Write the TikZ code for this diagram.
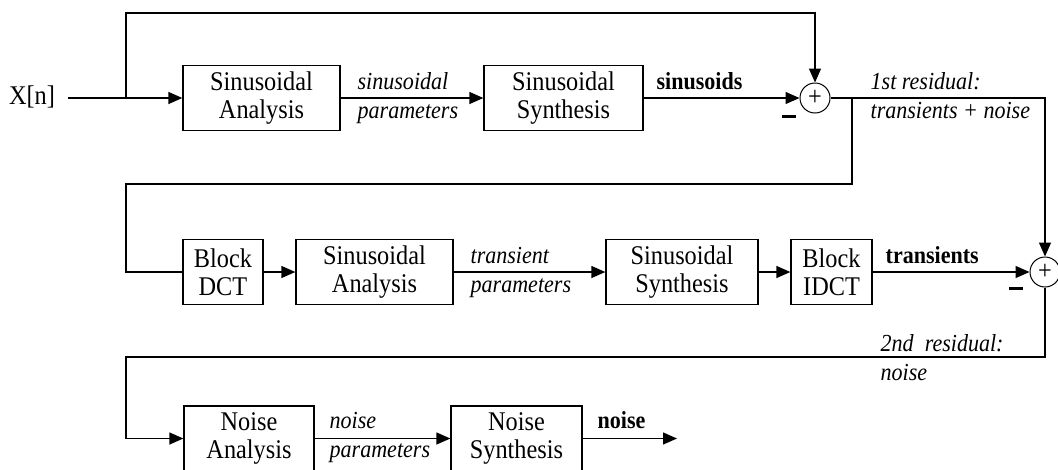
\documentclass[tikz,border=0pt]{standalone}
\usepackage{fontspec}
\setmainfont{Liberation Serif}[FakeStretch=0.9]
\usetikzlibrary{arrows.meta}
\begin{document}
\begin{tikzpicture}[x=1pt,y=-1pt, line width=1.3pt,
  blk/.style={draw, line width=1.3pt, inner sep=0pt, minimum height=65pt, align=center,
    font=\fontsize{27}{28}\selectfont},
  lbl/.style={font=\fontsize{24.5}{26}\selectfont\itshape, inner sep=0pt, anchor=base west},
  blbl/.style={font=\fontsize{24.5}{26}\selectfont\bfseries, inner sep=0pt, anchor=base west},
  sum/.style={draw, circle, minimum size=30pt, inner sep=0pt, line width=1pt,
    font=\fontsize{27}{27}\selectfont},
  arr/.style={-{Triangle[length=14pt,width=12pt]}},
  minus/.style={inner sep=0pt}
]
\useasboundingbox (0,0) rectangle (1058,469);

% row 1
\node[font=\fontsize{27}{28}\selectfont, inner sep=0pt] (xin) at (32,97) {X[n]};
\node[blk, minimum width=157pt] (sa1) at (261.5,98) {Sinusoidal\\Analysis};
\node[blk, minimum width=159pt] (ss1) at (563.5,98) {Sinusoidal\\Synthesis};
\node[sum] (c1) at (815,98) {+};
\node[lbl] (p1a) at (357,89) {sinusoidal};
\node[lbl] (p1b) at (357,118) {parameters};
\node[blbl] (s1) at (656,89) {sinusoids};
\node[minus] (m1) at (789,116) {\rule{14pt}{3pt}};
\node[lbl] (r1a) at (870,89) {1st residual:};
\node[lbl] (r1b) at (870,118) {transients + noise};

% row 2
\node[blk, minimum width=80pt] (dct) at (223,272) {Block\\DCT};
\node[blk, minimum width=157pt] (sa2) at (374.5,272) {Sinusoidal\\Analysis};
\node[blk, minimum width=152pt] (ss2) at (682,272) {Sinusoidal\\Synthesis};
\node[blk, minimum width=81pt] (idct) at (831.5,272) {Block\\IDCT};
\node[sum] (c2) at (1045,272) {+};
\node[lbl] (p2a) at (470,263) {transient};
\node[lbl] (p2b) at (470,292) {parameters};
\node[blbl] (s2) at (885,263) {transients};
\node[minus] (m2) at (1016,288) {\rule{14pt}{3pt}};
\node[lbl] (r2a) at (880,351) {2nd\hspace{0.45em}residual:};
\node[lbl] (r2b) at (880,380) {noise};

% row 3
\node[blk, minimum width=130pt] (na) at (249,438.5) {Noise\\Analysis};
\node[blk, minimum width=131pt] (ns) at (516.5,438.5) {Noise\\Synthesis};
\node[lbl] (p3a) at (329,428) {noise};
\node[lbl] (p3b) at (329,457) {parameters};
\node[blbl] (s3) at (597,428) {noise};

% helper points
\coordinate (in) at (68,98);
\coordinate (b1) at (126,98);
\coordinate (top) at (126,13);
\coordinate (b2) at (852,98);
\coordinate (k1) at (852,184);
\coordinate (l2) at (126,272);
\coordinate (k2) at (126,357);
\coordinate (l3) at (126,438.5);
\coordinate (out) at (677,438.5);

% connectors
\draw[arr] (in) -- (sa1.west);
\draw[arr] (b1) -- (top) -| (c1.north);
\draw[arr] (sa1.east) -- (ss1.west);
\draw[arr] (ss1.east) -- (c1.west);
\draw[arr] (c1.east) -| (c2.north);
\draw (b2) -- (k1) -| (l2) -- (dct.west);
\draw[arr] (dct.east) -- (sa2.west);
\draw[arr] (sa2.east) -- (ss2.west);
\draw[arr] (ss2.east) -- (idct.west);
\draw[arr] (idct.east) -- (c2.west);
\draw[arr] (c2.south) |- (k2) -- (l3) -- (na.west);
\draw[arr] (na.east) -- (ns.west);
\draw[arr] (ns.east) -- (out);
\end{tikzpicture}
\end{document}
